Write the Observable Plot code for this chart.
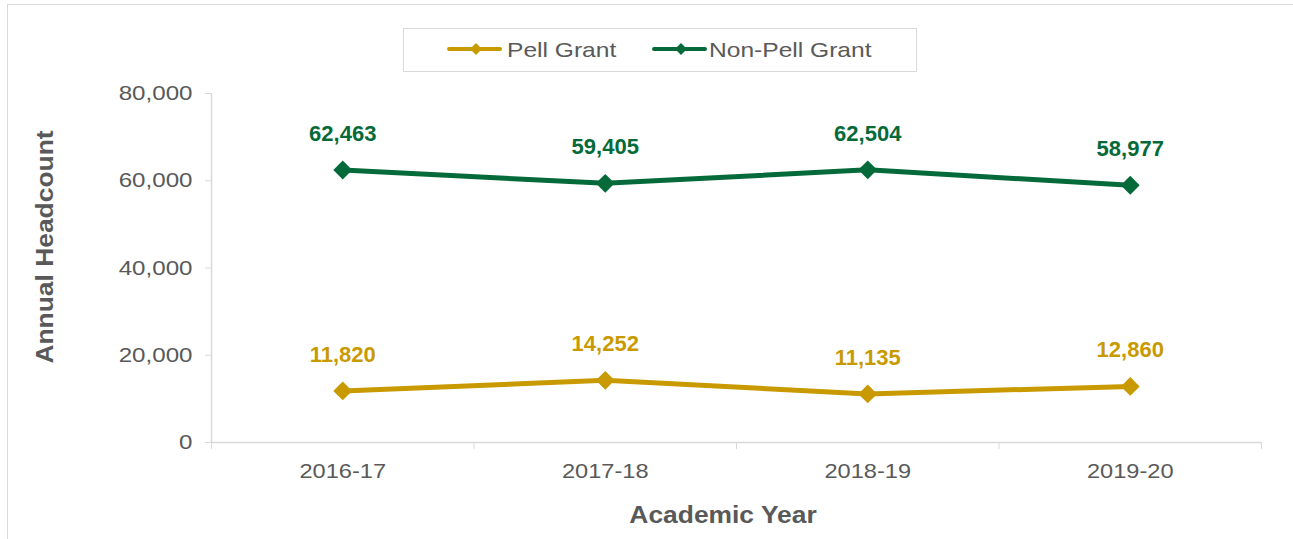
<!DOCTYPE html>
<html><head><meta charset="utf-8">
<script src="https://cdn.jsdelivr.net/npm/d3@7"></script>
<script src="https://cdn.jsdelivr.net/npm/@observablehq/plot@0.6"></script>
<style>
html,body{margin:0;padding:0;background:#fff;}
#wrap{position:relative;width:1293px;height:539px;overflow:hidden;font-family:"Liberation Sans",Arial,sans-serif;}
#frame{position:absolute;left:7px;top:4px;width:1400px;height:600px;border:1px solid #d9d9d9;box-sizing:border-box;}
#legend{position:absolute;left:403px;top:28px;width:514px;height:44px;border:1px solid #d9d9d9;box-sizing:border-box;background:#fff;}
#legend .item{position:absolute;top:0;height:42px;display:flex;align-items:center;font-size:21px;color:#595959;}
#legend .item span{display:inline-block;transform:scaleX(1.17);transform-origin:0 50%;white-space:nowrap;}
#chart{position:absolute;left:0;top:0;}
</style></head>
<body><div id="wrap"><div id="frame"></div><div id="legend"></div><div id="chart"></div></div>
<script>
const years = ["2016-17","2017-18","2018-19","2019-20"];
const pell = [11820,14252,11135,12860];
const nonPell = [62463,59405,62504,58977];
const seriesNames = ["Pell Grant","Non-Pell Grant"];
const seriesColors = ["#C99A00","#056A39"];
const yTicks = [0,20000,40000,60000,80000];

const rows = [];
years.forEach((y,i)=>{
  rows.push({year:y, idx:i+0.5, value:pell[i], series:seriesNames[0]});
  rows.push({year:y, idx:i+0.5, value:nonPell[i], series:seriesNames[1]});
});
const fmt = d3.format(",");
const gray = "#595959", axisGray = "#d9d9d9";

const plot = Plot.plot({
  width:1293, height:539,
  marginLeft:211, marginRight:32, marginTop:93, marginBottom:97,
  style:{fontFamily:"Liberation Sans, Arial, sans-serif", background:"transparent"},
  x:{domain:[0,years.length], axis:null},
  y:{domain:[0,80000], axis:null},
  color:{domain:seriesNames, range:seriesColors},
  marks:[
    Plot.axisY({ticks:yTicks, tickSize:6, tickPadding:13, tickFormat:fmt, fontSize:21, color:axisGray, label:null, ariaLabel:"ytick"}),
    Plot.axisX({ticks:d3.range(years.length+1), tickSize:7, tickFormat:()=>"", color:axisGray, label:null}),
    Plot.axisX({ticks:years.map((d,i)=>i+0.5), tickSize:0, tickPadding:21, tickFormat:(d)=>years[Math.floor(d)], fontSize:20, label:null, ariaLabel:"xtick"}),
    Plot.ruleX([0], {stroke:axisGray, strokeWidth:1.5}),
    Plot.ruleY([0], {stroke:axisGray, strokeWidth:1.5}),
    Plot.line(rows, {x:"idx", y:"value", stroke:"series", strokeWidth:5}),
    Plot.dot(rows, {x:"idx", y:"value", fill:"series", symbol:"diamond2", r:8.5, stroke:null}),
    Plot.text(rows, {x:"idx", y:"value", text:d=>fmt(d.value), fill:"series", dy:-36, fontSize:22, fontWeight:"bold", ariaLabel:"vlabel"})
  ]
});
const svg = d3.select(plot);
function stretch(sel, s){
  sel.each(function(){
    const el = d3.select(this);
    let t = el.attr("transform");
    if (!t) {
      const x = +el.attr("x") || 0, y = +el.attr("y") || 0;
      t = `translate(${x},${y})`; el.attr("x", null).attr("y", null);
    }
    el.attr("transform", t + ` scale(${s},1)`);
  });
}
svg.selectAll('g[aria-label^="ytick"] text, g[aria-label^="xtick"] text').attr("fill", gray);
svg.selectAll('g[aria-label^="ytick"], g[aria-label^="xtick"]').attr("fill", gray);
stretch(svg.selectAll('g[aria-label^="ytick"] text'), 1.15);
stretch(svg.selectAll('g[aria-label^="xtick"] text'), 1.18);
stretch(svg.selectAll('g[aria-label^="vlabel"] text'), 1.085);
svg.append("text").attr("transform","translate(53,247) rotate(-90) scale(1.1,1)").attr("text-anchor","middle")
  .attr("font-size",24).attr("font-weight","bold").attr("fill",gray).text("Annual Headcount");
svg.append("text").attr("transform","translate(723,523) scale(1.1,1)").attr("text-anchor","middle")
  .attr("font-size",24).attr("font-weight","bold").attr("fill",gray).text("Academic Year");
document.getElementById("chart").appendChild(plot);

// legend
const legend = d3.select("#legend");
const itemLeft = [43, 248];
const gaps = [5, 2];
seriesNames.forEach((name,i)=>{
  const it = legend.append("div").attr("class","item").style("left", itemLeft[i]+"px");
  const s = it.append("svg").attr("width",55).attr("height",20).style("margin-right", gaps[i]+"px").style("margin-top","-3px");
  s.append("line").attr("x1",2).attr("x2",53).attr("y1",10).attr("y2",10).attr("stroke",seriesColors[i]).attr("stroke-width",4).attr("stroke-linecap","round");
  s.append("path").attr("d", d3.symbol(d3.symbolDiamond2, 90)()).attr("transform","translate(29,10)").attr("fill",seriesColors[i]);
  it.append("span").text(name);
});
</script></body></html>
